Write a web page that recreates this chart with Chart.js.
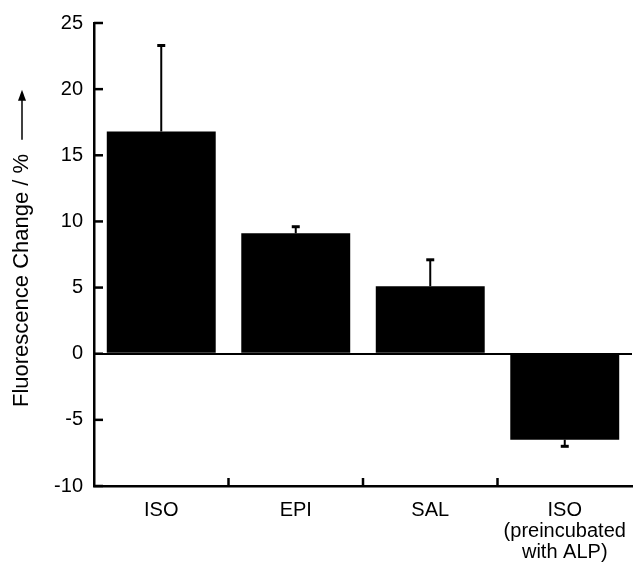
<!DOCTYPE html>
<html>
<head>
<meta charset="utf-8">
<script src="https://cdn.jsdelivr.net/npm/chart.js@4"></script>
<style>
  html, body { margin: 0; padding: 0; background: #fff; }
  #wrap { width: 634px; height: 567px; }
</style>
</head>
<body>
<div id="wrap"><canvas id="barChartCanvas"></canvas></div>
<script>
const categories = [["ISO"], ["EPI"], ["SAL"], ["ISO", "(preincubated", "with ALP)"]];
const changeValues = [16.8, 9.1, 5.1, -6.5];
const errorValues = [6.5, 0.5, 2.0, 0.5];
const yTicks = [-10, -5, 0, 5, 10, 15, 20, 25];
const yTitle = "Fluorescence Change / %";

const FONT = "'Liberation Sans', Arial, Helvetica, sans-serif";

// error bars, inward axis ticks, category separators and the rotated title
const extras = {
  id: "extras",
  afterDatasetsDraw(chart) {
    const ctx = chart.ctx;
    const x = chart.scales.x;
    const y = chart.scales.y;
    const meta = chart.getDatasetMeta(0);
    ctx.save();
    ctx.strokeStyle = "#000";
    ctx.lineCap = "butt";

    // error bars
    meta.data.forEach((bar, i) => {
      const v = changeValues[i];
      const end = v >= 0 ? v + errorValues[i] : v - errorValues[i];
      const py0 = y.getPixelForValue(v);
      const py1 = y.getPixelForValue(end);
      ctx.lineWidth = 2;
      ctx.beginPath();
      ctx.moveTo(bar.x, py0);
      ctx.lineTo(bar.x, py1);
      ctx.stroke();
      ctx.lineWidth = 3;
      ctx.beginPath();
      ctx.moveTo(bar.x - 4, py1);
      ctx.lineTo(bar.x + 4, py1);
      ctx.stroke();
    });

    // y ticks pointing into the plot
    ctx.lineWidth = 2.5;
    yTicks.forEach((t) => {
      const py = y.getPixelForValue(t);
      ctx.beginPath();
      ctx.moveTo(x.left, py);
      ctx.lineTo(x.left + 9, py);
      ctx.stroke();
    });

    // separators between categories on the bottom axis
    const step = (x.right - x.left) / categories.length;
    for (let i = 1; i < categories.length; i++) {
      const px = x.left + step * i;
      ctx.beginPath();
      ctx.moveTo(px, y.bottom);
      ctx.lineTo(px, y.bottom - 8);
      ctx.stroke();
    }

    // axis title with arrow
    ctx.translate(22, 407);
    ctx.rotate(-Math.PI / 2);
    ctx.font = "22px " + FONT;
    ctx.fillStyle = "#000";
    ctx.textAlign = "left";
    ctx.textBaseline = "middle";
    ctx.fillText(yTitle, 0, 0);
    const w = ctx.measureText(yTitle).width;
    const a0 = w + 14;
    const a1 = a0 + 50;
    ctx.lineWidth = 1.5;
    ctx.beginPath();
    ctx.moveTo(a0, 0);
    ctx.lineTo(a1 - 8, 0);
    ctx.stroke();
    ctx.beginPath();
    ctx.moveTo(a1, 0);
    ctx.lineTo(a1 - 11, -4);
    ctx.lineTo(a1 - 11, 4);
    ctx.closePath();
    ctx.fill();
    ctx.restore();
  }
};

new Chart(document.getElementById("barChartCanvas"), {
  type: "bar",
  data: {
    labels: categories,
    datasets: [
      {
        label: "Fluorescence Change",
        data: changeValues,
        backgroundColor: "#000",
        borderWidth: 0,
        categoryPercentage: 1,
        barPercentage: 0.81
      }
    ]
  },
  options: {
    responsive: true,
    maintainAspectRatio: false,
    animation: false,
    layout: { padding: { top: 8, right: 2, left: 0, bottom: 0 } },
    plugins: { legend: { display: false }, tooltip: { enabled: false } },
    scales: {
      x: {
        afterFit(scale) {
          scale.height = 81;
          scale.paddingLeft = 0;
          scale.paddingRight = 0;
        },
        grid: { display: false, drawTicks: false },
        border: { display: true, color: "#000", width: 2.5 },
        ticks: {
          color: "#000",
          padding: 14,
          maxRotation: 0,
          autoSkip: false,
          font: { family: FONT, size: 20, lineHeight: 1.05 }
        }
      },
      y: {
        min: -10,
        max: 25,
        afterFit(scale) { scale.width = 94; },
        afterBuildTicks(scale) { scale.ticks = yTicks.map((v) => ({ value: v })); },
        grid: {
          drawTicks: false,
          color: (c) => (c.tick && c.tick.value === 0 ? "#000" : "rgba(0,0,0,0)"),
          lineWidth: (c) => (c.tick && c.tick.value === 0 ? 2 : 0)
        },
        border: { display: true, color: "#000", width: 2.5 },
        ticks: {
          color: "#000",
          padding: 11,
          font: { family: FONT, size: 20 }
        }
      }
    }
  },
  plugins: [extras]
});
</script>
</body>
</html>
